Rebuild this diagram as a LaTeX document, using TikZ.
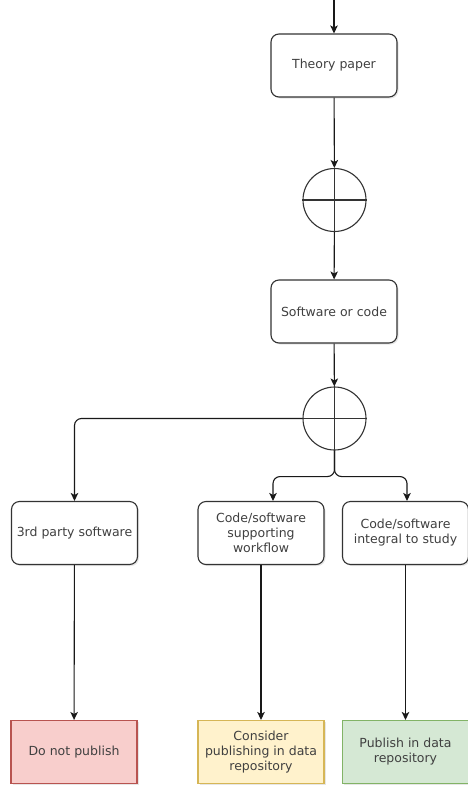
\documentclass[tikz,border=0pt]{standalone}
\usepackage{fontspec}
\setmainfont{DejaVu Sans}
\usetikzlibrary{positioning,arrows.meta,shadows}
\definecolor{noFill}{HTML}{F8CECC}\definecolor{noLine}{HTML}{B85450}
\definecolor{maybeFill}{HTML}{FFF2CC}\definecolor{maybeLine}{HTML}{D6B656}
\definecolor{yesFill}{HTML}{D5E8D4}\definecolor{yesLine}{HTML}{82B366}
\tikzset{
	stage/.style={draw=black!80, line width=1.1pt, rounded corners=8pt, fill=white,
		minimum width=126pt, minimum height=63pt, align=center, text=black!75,
		font=\fontsize{12.5}{15}\selectfont,
		drop shadow={opacity=0.2, shadow xshift=1.5pt, shadow yshift=-1.5pt}},
	outcome/.style={stage, rounded corners=0pt},
	junction/.style={draw=black!80, line width=1.1pt, circle, minimum size=63pt, inner sep=0pt},
	flow/.style={-{Stealth[length=8pt,width=7.5pt,inset=2pt]}, line width=1.1pt, draw=black!90, rounded corners=7pt}
}

\begin{document}
\begin{tikzpicture}[x=1pt,y=-1pt]
	\useasboundingbox (0,0) rectangle (468,785);
	\node[stage] (theory) at (334,65.5) {Theory paper};
	\node[junction] (join1) at (334.5,200) {};
	\node[stage] (code) at (334,311.5) {Software or code};
	\node[junction] (join2) at (334.5,418.5) {};
	\node[stage] (third) at (74.5,533) {3rd party software};
	\node[stage] (workflow) at (261,533) {Code/software\\supporting\\workflow};
	\node[stage] (integral) at (405.5,533) {Code/software\\integral to study};
	\node[outcome, fill=noFill, draw=noLine] (nopub) at (74,752) {Do not publish};
	\node[outcome, fill=maybeFill, draw=maybeLine] (consider) at (261,752) {Consider\\publishing in data\\repository};
	\node[outcome, fill=yesFill, draw=yesLine] (publish) at (405.5,752) {Publish in data\\repository};
	\coordinate (start) at (334,0);
	\coordinate (wf in) at ([xshift=12pt]workflow.north);
	\coordinate (int in) at ([xshift=1.5pt]integral.north);
	% crosses inside the junctions
	\foreach \j in {join1,join2}
		\draw[line width=1.1pt, black!80] (\j.north) -- (\j.south) (\j.west) -- (\j.east);
	\path[every edge/.append style={flow}]
	(start) edge (theory)
	(theory) edge (join1)
	(join1) edge (code)
	(code) edge (join2)
	(workflow) edge (consider)
	(integral) edge (publish)
	(third) edge (nopub);
	\draw[flow] (join2.west) -| (third.north);
	\draw[flow] (join2.south) -- ++(0,26) -| (wf in);
	\draw[flow] (join2.south) -- ++(0,26) -| (int in);
\end{tikzpicture}
\end{document}
